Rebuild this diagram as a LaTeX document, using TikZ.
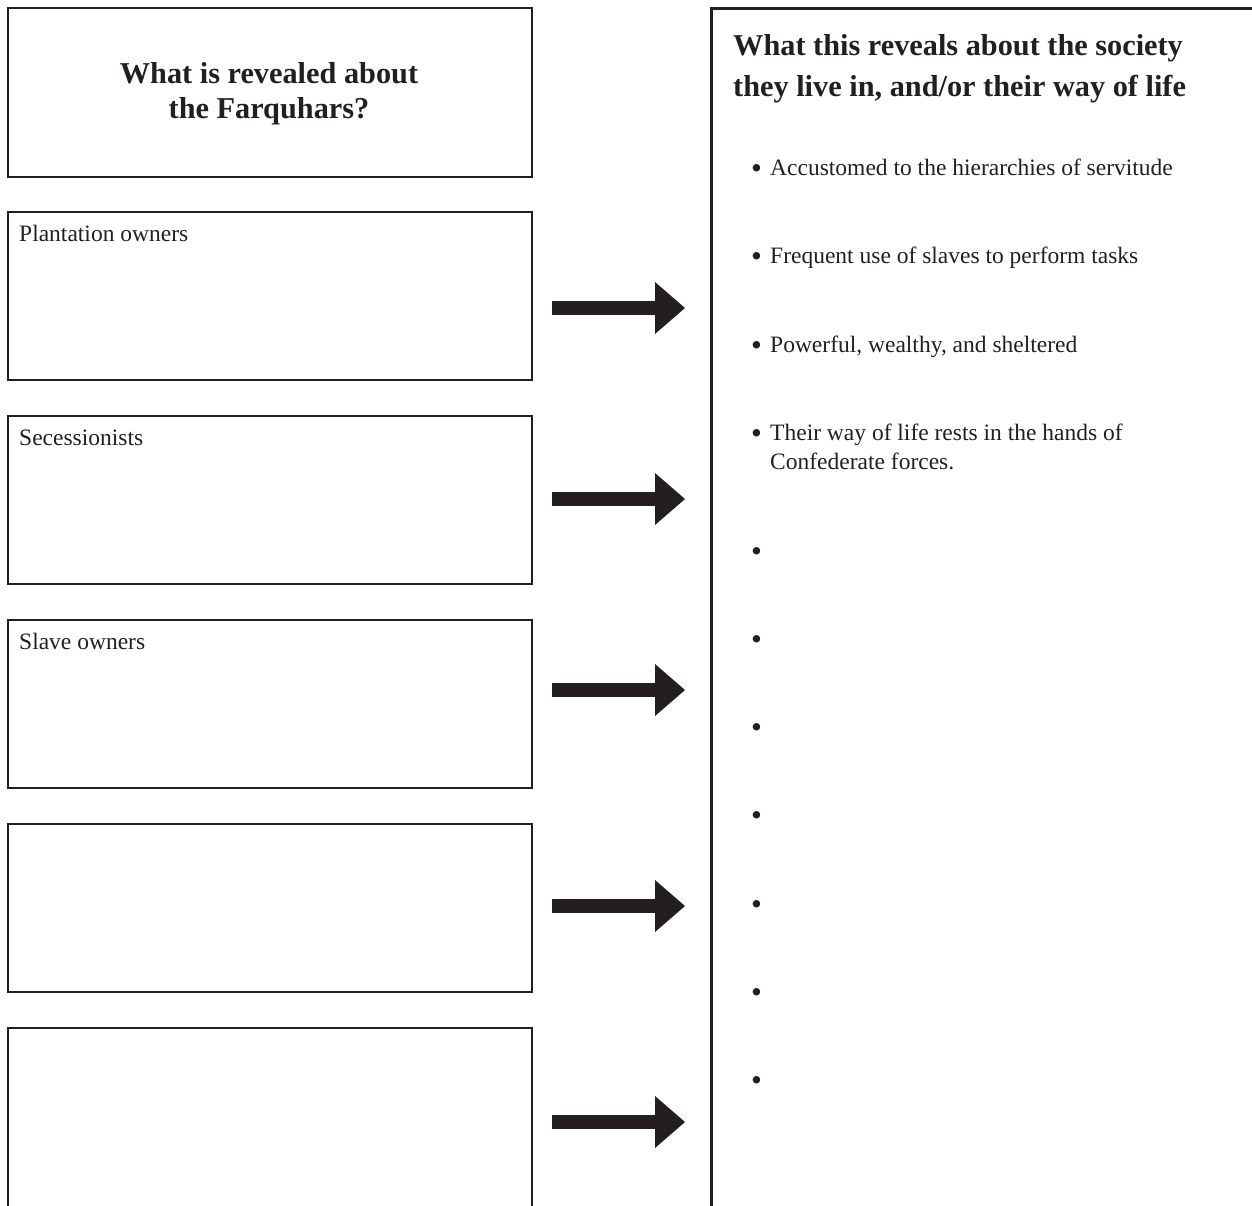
\documentclass[tikz,border=0pt]{standalone}
\usepackage{fontspec}
\setmainfont{Liberation Serif}
\usetikzlibrary{arrows.meta}
\definecolor{ink}{HTML}{231F20}
\begin{document}
\begin{tikzpicture}[x=1pt,y=-1pt,
  leftbox/.style={draw=ink, line width=2.4pt, inner sep=0pt, anchor=north west,
    minimum width=524pt, minimum height=168pt},
  panelbox/.style={draw=ink, line width=3pt, inner sep=0pt, anchor=north west,
    minimum width=620pt, minimum height=1260pt},
  bodytext/.style={text=ink, inner sep=0pt, anchor=base west,
    font=\fontsize{23.5}{29}\selectfont, align=left},
  headtext/.style={text=ink, inner sep=0pt, anchor=base,
    font=\fontsize{30.3}{38}\selectfont\bfseries},
  headtextl/.style={headtext, anchor=base west},
  bul/.style={text=ink, inner sep=0pt, anchor=base west,
    font=\fontsize{31}{31}\selectfont},
  blockarrow/.style={ink, line width=13.5pt,
    -{Triangle[width=52pt,length=30pt,line width=0pt]}}
]
\useasboundingbox (0,0) rectangle (1252,1205);

% left column boxes
\node[leftbox, minimum height=169pt] (hdr) at (7,7) {};
\node[leftbox] (b1) at (7,211) {};
\node[leftbox] (b2) at (7,415) {};
\node[leftbox] (b3) at (7,619) {};
\node[leftbox] (b4) at (7,823) {};
\node[leftbox, minimum height=240pt] (b5) at (7,1027) {};

% right panel
\node[panelbox] (panel) at (710,7) {};

% left header
\node[headtext] (h1) at (269,83) {What is revealed about};
\node[headtext] (h2) at (269,118) {the Farquhars?};

% left labels
\node[bodytext] (t1) at (19,241) {Plantation owners};
\node[bodytext] (t2) at (19,445) {Secessionists};
\node[bodytext] (t3) at (19,649) {Slave owners};

% right header
\node[headtextl] (rh1) at (733,55) {What this reveals about the society};
\node[headtextl] (rh2) at (733,96) {they live in, and/or their way of life};

% bullets
\node[bul] (p1) at (751,178) {\textbullet};
\node[bodytext] (q1) at (770,175) {Accustomed to the hierarchies of servitude};
\node[bul] (p2) at (751,266) {\textbullet};
\node[bodytext] (q2) at (770,263) {Frequent use of slaves to perform tasks};
\node[bul] (p3) at (751,355) {\textbullet};
\node[bodytext] (q3) at (770,352) {Powerful, wealthy, and sheltered};
\node[bul] (p4) at (751,443) {\textbullet};
\node[bodytext] (q4) at (770,440) {Their way of life rests in the hands of};
\node[bodytext] (q4b) at (770,469) {Confederate forces.};
\node[bul] (p5) at (751,561) {\textbullet};
\node[bul] (p6) at (751,649) {\textbullet};
\node[bul] (p7) at (751,737) {\textbullet};
\node[bul] (p8) at (751,825) {\textbullet};
\node[bul] (p9) at (751,914) {\textbullet};
\node[bul] (p10) at (751,1002) {\textbullet};
\node[bul] (p11) at (751,1090) {\textbullet};

% arrows
\coordinate (a1s) at (552,308);  \coordinate (a1e) at (685,308);
\coordinate (a2s) at (552,499);  \coordinate (a2e) at (685,499);
\coordinate (a3s) at (552,690);  \coordinate (a3e) at (685,690);
\coordinate (a4s) at (552,906);  \coordinate (a4e) at (685,906);
\coordinate (a5s) at (552,1122); \coordinate (a5e) at (685,1122);
\draw[blockarrow] (a1s) -- (a1e);
\draw[blockarrow] (a2s) -- (a2e);
\draw[blockarrow] (a3s) -- (a3e);
\draw[blockarrow] (a4s) -- (a4e);
\draw[blockarrow] (a5s) -- (a5e);
\end{tikzpicture}
\end{document}
